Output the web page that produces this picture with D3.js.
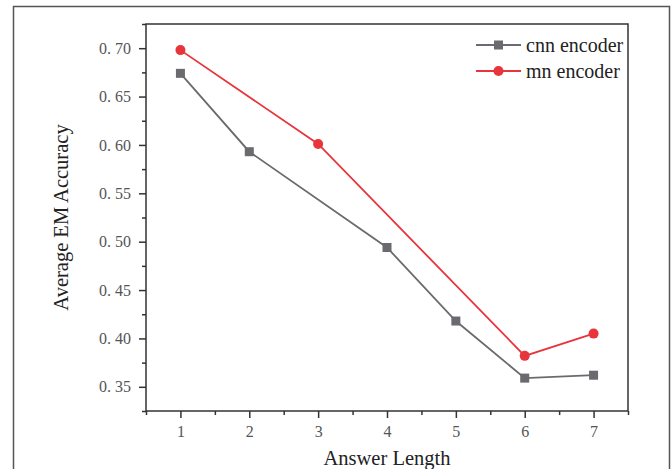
<!DOCTYPE html>
<html>
<head>
<meta charset="utf-8">
<script src="https://cdn.jsdelivr.net/npm/d3@7"></script>
<style>
  body { margin: 0; background: #fff; }
  svg { display: block; }
</style>
</head>
<body>
<div id="chart"></div>
<script>
// Size of the page and plot box
const WIDTH = 672;
const HEIGHT = 469;
const MARGIN = {top: 24, right: 44, bottom: 58, left: 146};
const PLOT_W = WIDTH - MARGIN.left - MARGIN.right;
const PLOT_H = HEIGHT - MARGIN.top - MARGIN.bottom;

const COLOUR_CNN = "#6a6a6f";
const COLOUR_MN = "#e8343b";
const FONT = "'Liberation Serif', 'Times New Roman', serif";

// Data (missing points left null)
const answerLengths = [1, 2, 3, 4, 5, 6, 7];
const cnnValues = [0.674, 0.593, null, 0.494, 0.418, 0.359, 0.362];
const mnValues = [0.698, null, 0.601, null, null, 0.382, 0.405];
const yTicks = [0.35, 0.40, 0.45, 0.50, 0.55, 0.60, 0.65, 0.70];
const seriesNames = ["cnn encoder", "mn encoder"];

let svg = d3.select("#chart")
            .append("svg")
            .attr("width", WIDTH)
            .attr("height", HEIGHT);

// outer frame
svg.append("rect")
    .attr("x", 13.5)
    .attr("y", 6.5)
    .attr("width", 656)
    .attr("height", 480)
    .attr("fill", "none")
    .attr("stroke", "#555")
    .attr("stroke-width", 1.5);

let g = svg.append("g")
            .attr("transform", `translate(${MARGIN.left}, ${MARGIN.top})`);

// Scales
let x = d3.scaleLinear().domain([0.5, 7.5]).range([0, PLOT_W]);
let y = d3.scaleLinear().domain([0.325, 0.725]).range([PLOT_H, 0]);

// fmt "0. 70" like the original
let fmt = d => d3.format(".2f")(d).replace(".", ". ");

// minor ticks first
let xMinor = d3.range(0.5, 7.51, 1);
let yMinor = d3.range(0.325, 0.726, 0.05);

g.append("g")
    .attr("transform", `translate(0, ${PLOT_H})`)
    .call(d3.axisBottom(x).tickValues(xMinor).tickSize(4).tickFormat(""))
    .call(a => a.select(".domain").remove())
    .call(a => a.selectAll("line").attr("stroke", "#333").attr("stroke-width", 1.5));

g.append("g")
    .call(d3.axisLeft(y).tickValues(yMinor).tickSize(4).tickFormat(""))
    .call(a => a.select(".domain").remove())
    .call(a => a.selectAll("line").attr("stroke", "#333").attr("stroke-width", 1.5));

// major axes
let xAxis = g.append("g")
    .attr("transform", `translate(0, ${PLOT_H})`)
    .call(d3.axisBottom(x).tickValues(answerLengths).tickSize(7).tickPadding(8).tickFormat(d3.format("d")));

let yAxis = g.append("g")
    .call(d3.axisLeft(y).tickValues(yTicks).tickSize(7).tickPadding(8).tickFormat(fmt));

[xAxis, yAxis].forEach(a => {
    a.select(".domain").remove();
    a.selectAll("line").attr("stroke", "#333").attr("stroke-width", 1.5);
    a.selectAll("text")
        .attr("fill", "#555")
        .style("font-family", FONT)
        .style("font-size", "16px");
});

// plot box
g.append("rect")
    .attr("width", PLOT_W)
    .attr("height", PLOT_H)
    .attr("fill", "none")
    .attr("stroke", "#333")
    .attr("stroke-width", 1.5);

// Lines and markers
let line = d3.line()
            .x(d => x(d.x))
            .y(d => y(d.v));

let cnnData = answerLengths.map((l, i) => ({x: l, v: cnnValues[i]})).filter(d => d.v !== null);
let mnData = answerLengths.map((l, i) => ({x: l, v: mnValues[i]})).filter(d => d.v !== null);

g.append("path")
    .datum(cnnData)
    .attr("fill", "none")
    .attr("stroke", COLOUR_CNN)
    .attr("stroke-width", 1.8)
    .attr("d", line);

g.append("path")
    .datum(mnData)
    .attr("fill", "none")
    .attr("stroke", COLOUR_MN)
    .attr("stroke-width", 1.8)
    .attr("d", line);

g.selectAll(".sq")
    .data(cnnData)
    .join("rect")
    .attr("class", "sq")
    .attr("x", d => x(d.x) - 4.5)
    .attr("y", d => y(d.v) - 4.5)
    .attr("width", 9)
    .attr("height", 9)
    .attr("fill", COLOUR_CNN);

g.selectAll(".dot")
    .data(mnData)
    .join("circle")
    .attr("class", "dot")
    .attr("cx", d => x(d.x))
    .attr("cy", d => y(d.v))
    .attr("r", 5)
    .attr("fill", COLOUR_MN);

// Legend
let legend = svg.append("g").attr("transform", "translate(476, 45)");
[COLOUR_CNN, COLOUR_MN].forEach((c, i) => {
    let row = legend.append("g").attr("transform", `translate(0, ${i * 26})`);
    row.append("line")
        .attr("x1", 0).attr("x2", 45)
        .attr("stroke", c).attr("stroke-width", 1.8);
    if (i === 0) {
        row.append("rect").attr("x", 18).attr("y", -4.5).attr("width", 9).attr("height", 9).attr("fill", c);
    } else {
        row.append("circle").attr("cx", 22.5).attr("r", 5).attr("fill", c);
    }
    row.append("text")
        .attr("x", 50)
        .attr("dy", "0.35em")
        .attr("fill", "#222")
        .style("font-family", FONT)
        .style("font-size", "20px")
        .text(seriesNames[i]);
});

// Axis titles
svg.append("text")
    .attr("x", MARGIN.left + PLOT_W / 2)
    .attr("y", 465)
    .attr("text-anchor", "middle")
    .attr("fill", "#222")
    .style("font-family", FONT)
    .style("font-size", "20.5px")
    .text("Answer Length");

svg.append("text")
    .attr("transform", `translate(68, ${MARGIN.top + PLOT_H / 2}) rotate(-90)`)
    .attr("text-anchor", "middle")
    .attr("fill", "#222")
    .style("font-family", FONT)
    .style("font-size", "20.5px")
    .text("Average EM Accuracy");
</script>
</body>
</html>
